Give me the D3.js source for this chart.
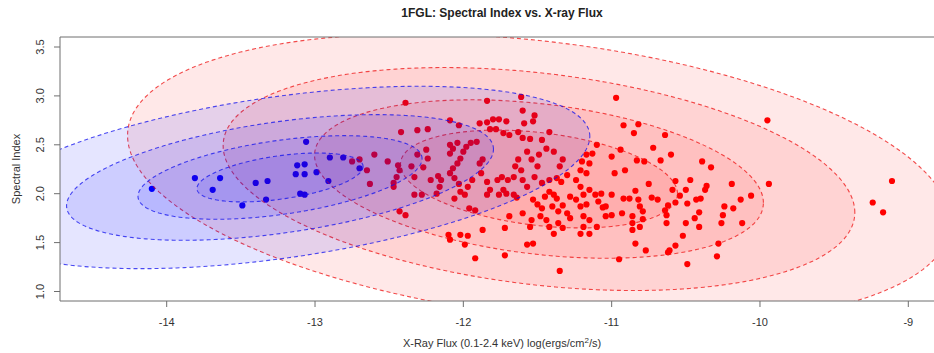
<!DOCTYPE html>
<html>
<head>
<meta charset="utf-8">
<script src="https://cdn.jsdelivr.net/npm/d3@7"></script>
<style>
  html, body { margin: 0; padding: 0; background: #fff; }
  svg { display: block; font-family: "Liberation Sans", Arial, Helvetica, sans-serif; }
</style>
</head>
<body>
<svg id="chart" width="934" height="353"></svg>
<script>
// Blazars with X-ray counterparts: log X-ray flux vs. LAT spectral index
const blueX = [-14.10, -13.81, -13.69, -13.64, -13.49, -13.40, -13.32, -13.33, -13.06, -13.12,
               -13.07, -13.13, -13.07, -13.10, -13.07, -12.99, -12.91, -12.90, -12.81, -12.70];
const blueY = [2.05, 2.16, 2.04, 2.16, 1.88, 2.11, 2.13, 1.94, 2.53, 2.29,
               2.30, 2.20, 2.20, 2.00, 1.99, 2.22, 2.13, 2.37, 2.37, 2.26];

const redX = [
  -12.39, -11.84, -11.61, -11.60, -11.52, -11.59, -11.53, -12.42, -12.31, -12.24,
  -12.09, -12.03, -11.89, -11.84, -11.80, -11.76, -11.71, -11.82, -11.78, -11.73,
  -11.69, -11.63, -11.60, -11.55, -11.47, -11.42, -11.39, -11.33, -11.35, -11.30,
  -11.37, -11.20, -11.10, -11.13, -11.17, -12.60, -12.51, -12.44, -12.43, -12.45,
  -12.47, -12.47, -12.63, -12.65, -12.75, -12.70, -12.35, -12.31, -12.25, -12.24,
  -12.27, -12.33, -12.33, -12.28, -12.43, -12.39, -12.22, -12.17, -12.15, -12.16,
  -12.18, -12.09, -12.07, -12.04, -12.02, -12.00, -11.98, -11.95, -11.91, -12.09,
  -12.07, -12.04, -12.09, -12.06, -12.03, -12.02, -12.06, -11.99, -11.94, -11.97,
  -11.89, -11.87, -11.88, -11.84, -11.82, -11.84, -11.77, -11.74, -11.73, -11.71,
  -11.76, -11.70, -11.66, -11.65, -11.63, -11.61, -11.60, -11.57, -11.66, -11.64,
  -11.96, -11.92, -11.87, -12.10, -12.02, -11.97, -11.99, -12.09, -11.92, -11.72,
  -11.69, -11.60, -11.55, -11.53, -11.57, -11.72, -11.35, -11.53, -11.50, -11.47,
  -11.45, -11.42, -11.39, -11.37, -11.40, -11.36, -11.33, -11.28, -11.24, -11.19,
  -11.15, -11.11, -11.09, -11.17, -11.21, -11.30, -11.28, -11.19, -11.15, -11.10,
  -11.19, -11.21, -11.33, -11.36, -11.42, -11.39, -11.44, -11.48, -11.54, -11.15,
  -11.24, -11.21, -11.17, -11.21, -11.15, -11.34, -11.42, -11.47, -11.52, -11.50,
  -11.54, -11.49, -11.44, -11.57, -10.97,  -9.95, -10.92, -10.82, -10.85, -10.64,
  -10.72, -10.94, -11.00, -10.83, -10.78, -10.67, -10.60, -10.39, -10.33, -10.98,
  -10.91, -10.75, -10.57, -10.47, -10.36, -10.37, -10.19, -10.06, -10.13,  -9.94,
  -10.24, -10.18, -10.25, -10.26, -10.12, -10.41, -10.44, -10.41, -10.50, -10.52,
  -10.57, -10.61, -10.62, -10.77, -10.84, -10.95, -10.49, -10.29, -10.28, -10.63,
  -10.63, -10.64, -10.62, -10.57, -10.54, -10.50, -10.49, -10.43, -10.40, -10.59,
  -10.69, -10.73, -10.79, -10.81, -10.82, -10.84, -10.88, -10.92, -10.93, -10.86,
  -10.86, -10.86, -10.81, -10.79, -11.00, -11.04, -11.06, -11.04, -11.00, -11.07,
   -9.11,  -9.24,  -9.17];
const redY = [
  2.93, 2.95, 2.99, 2.85, 2.80, 2.72, 2.74, 2.63, 2.65, 2.66,
  2.75, 2.70, 2.72, 2.73, 2.76, 2.76, 2.74, 2.66, 2.66, 2.62,
  2.60, 2.63, 2.57, 2.56, 2.55, 2.63, 2.43, 2.35, 2.28, 2.19,
  2.16, 2.33, 2.50, 2.41, 2.40, 2.40, 2.33, 2.29, 2.24, 2.17,
  2.11, 2.07, 2.10, 2.24, 2.33, 2.35, 2.28, 2.40, 2.45, 2.36,
  2.27, 2.17, 1.99, 1.99, 1.82, 1.78, 2.14, 2.18, 2.14, 2.07,
  2.00, 2.21, 2.26, 2.31, 2.36, 2.43, 2.48, 2.52, 2.53, 2.41,
  2.46, 2.52, 2.50, 2.16, 2.10, 2.02, 1.95, 1.99, 2.14, 2.07,
  2.31, 2.35, 2.21, 2.12, 2.04, 1.99, 2.14, 2.17, 2.04, 2.00,
  1.99, 2.14, 2.17, 2.28, 2.35, 2.24, 2.14, 2.07, 1.99, 1.96,
  1.85, 1.83, 1.63, 1.58, 1.58, 1.57, 1.48, 1.53, 1.34, 1.65,
  1.77, 1.80, 1.66, 1.49, 1.48, 1.37, 1.21, 1.94, 1.89, 1.85,
  1.97, 2.02, 1.99, 1.95, 1.87, 1.82, 1.88, 1.97, 1.94, 1.99,
  2.04, 1.99, 1.92, 1.89, 1.87, 1.80, 1.75, 1.77, 1.73, 1.66,
  1.66, 1.59, 1.65, 1.70, 1.66, 1.59, 1.73, 1.77, 1.73, 1.59,
  2.14, 2.07, 2.21, 2.24, 2.31, 2.12, 2.14, 2.11, 2.17, 2.28,
  2.35, 2.40, 2.46, 2.43, 2.98, 2.75, 2.70, 2.71, 2.62, 2.60,
  2.47, 2.45, 2.38, 2.34, 2.33, 2.34, 2.40, 2.33, 2.27, 2.21,
  2.24, 2.10, 2.13, 2.14, 2.08, 2.04, 2.10, 1.98, 1.94, 2.10,
  1.87, 1.85, 1.78, 1.70, 1.70, 1.81, 1.75, 1.66, 1.70, 1.57,
  1.47, 1.42, 1.40, 1.42, 1.49, 1.33, 1.28, 1.36, 1.49, 1.78,
  1.70, 1.83, 1.88, 1.91, 1.98, 2.04, 1.90, 1.94, 1.95, 2.04,
  1.94, 1.96, 1.82, 1.87, 1.94, 2.03, 1.95, 1.95, 1.80, 1.77,
  1.70, 1.63, 1.66, 1.74, 1.78, 1.77, 1.86, 1.87, 1.99, 2.00,
  2.13, 1.91, 1.81];

// Bivariate normal summaries of each population and the contour levels drawn
const blueFit = { mx: -13.236, my: 2.166, sx: 0.560, sy: 0.250, rho: 0.45 };
const blueLevels = [1, 1.71, 2.57, 3.73];
const redFit = { mx: -11.49, my: 2.15, sx: 0.934, sy: 0.500, rho: -0.30 };
const redLevels = [1, 1.62, 2.28, 2.97];

const xTicks = [-14, -13, -12, -11, -10, -9];
const yTicks = [1.0, 1.5, 2.0, 2.5, 3.0, 3.5];

const svg = d3.select("#chart");
const plot = { left: 60, top: 37, right: 944, bottom: 301 };

const x = d3.scaleLinear().domain([-14, -9]).range([166.7, 908.3]);
const y = d3.scaleLinear().domain([1.0, 3.5]).range([291.5, 47]);

svg.append("defs").append("clipPath").attr("id", "plotclip")
  .append("rect")
  .attr("x", plot.left).attr("y", plot.top)
  .attr("width", plot.right - plot.left).attr("height", plot.bottom - plot.top);

const body = svg.append("g").attr("clip-path", "url(#plotclip)");

// points first; the translucent contour fills are laid over them
body.append("g").selectAll("circle")
  .data(d3.zip(redX, redY)).join("circle")
  .attr("cx", d => x(d[0])).attr("cy", d => y(d[1]))
  .attr("r", 3.1).attr("fill", "#ff0000");

body.append("g").selectAll("circle")
  .data(d3.zip(blueX, blueY)).join("circle")
  .attr("cx", d => x(d[0])).attr("cy", d => y(d[1]))
  .attr("r", 3.1).attr("fill", "#0000ff");

function ellipsePath(fit, k) {
  const n = 240, pts = [];
  const c = Math.sqrt(1 - fit.rho * fit.rho);
  for (let i = 0; i < n; i++) {
    const t = 2 * Math.PI * i / n;
    const u = Math.cos(t), v = Math.sin(t);
    const ex = fit.mx + k * fit.sx * u;
    const ey = fit.my + k * fit.sy * (fit.rho * u + c * v);
    pts.push([x(ex), y(ey)]);
  }
  return d3.line().curve(d3.curveLinearClosed)(pts);
}

function drawContours(fit, levels, fill, stroke, alpha) {
  const g = body.append("g");
  levels.slice().reverse().forEach(k => {
    g.append("path")
      .attr("d", ellipsePath(fit, k))
      .attr("fill", fill).attr("fill-opacity", alpha)
      .attr("stroke", stroke).attr("stroke-opacity", 0.75)
      .attr("stroke-width", 1.1)
      .attr("stroke-dasharray", "4,3");
  });
}

drawContours(redFit, redLevels, "#ff0000", "#ee1111", 0.09);
drawContours(blueFit, blueLevels, "#0000ff", "#1111ee", 0.10);

// frame
svg.append("path")
  .attr("d", `M${plot.right},${plot.top}H${plot.left}V${plot.bottom}H${plot.right}`)
  .attr("fill", "none").attr("stroke", "#6e6e6e").attr("stroke-width", 1);

// axes
const axisColor = "#6e6e6e";
const gx = svg.append("g");
xTicks.forEach(t => {
  gx.append("line").attr("x1", x(t)).attr("x2", x(t))
    .attr("y1", plot.bottom).attr("y2", plot.bottom + 6)
    .attr("stroke", axisColor);
  gx.append("text").attr("x", x(t)).attr("y", 326)
    .attr("text-anchor", "middle").attr("font-size", 11).attr("fill", "#333")
    .text(String(t));
});
const gy = svg.append("g");
yTicks.forEach(t => {
  gy.append("line").attr("x1", plot.left - 6).attr("x2", plot.left)
    .attr("y1", y(t)).attr("y2", y(t)).attr("stroke", axisColor);
  gy.append("text")
    .attr("transform", `translate(44,${y(t)}) rotate(-90)`)
    .attr("text-anchor", "middle").attr("font-size", 11).attr("fill", "#333")
    .text(d3.format(".1f")(t));
});

const midX = (plot.left + plot.right) / 2;

svg.append("text").attr("x", midX).attr("y", 17)
  .attr("text-anchor", "middle").attr("font-size", 12).attr("font-weight", "bold")
  .attr("fill", "#222").text("1FGL: Spectral Index vs. X-ray Flux");

svg.append("text")
  .attr("transform", `translate(20,169) rotate(-90)`)
  .attr("text-anchor", "middle").attr("font-size", 11).attr("fill", "#333")
  .text("Spectral Index");

const xl = svg.append("text").attr("x", midX).attr("y", 347)
  .attr("text-anchor", "middle").attr("font-size", 11).attr("fill", "#333");
xl.append("tspan").text("X-Ray Flux (0.1-2.4 keV) log(ergs/cm");
xl.append("tspan").attr("dy", -4).attr("font-size", 8).text("2");
xl.append("tspan").attr("dy", 4).text("/s)");
</script>
</body>
</html>
